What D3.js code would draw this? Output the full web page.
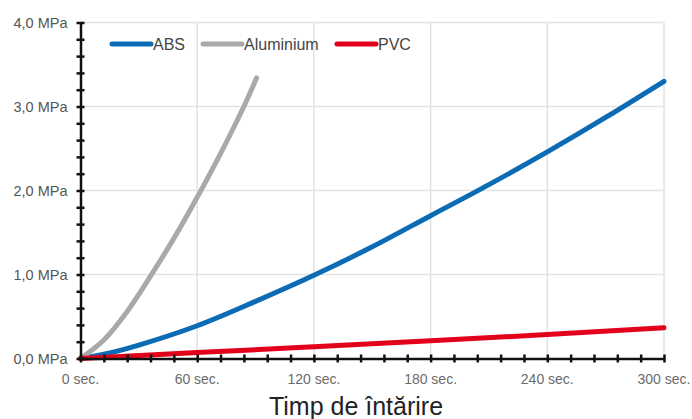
<!DOCTYPE html>
<html>
<head>
<meta charset="utf-8">
<script src="https://cdn.jsdelivr.net/npm/d3@7"></script>
<style>
    html, body { margin: 0; padding: 0; background: #ffffff; }
    text { font-family: "Liberation Sans", Arial, sans-serif; }
</style>
</head>
<body>
<div id="chart"></div>
<script>
"use strict";

// values (seconds -> MPa)
const absTime   = [0, 12, 30, 60, 90, 120, 150, 180, 210, 240, 270, 300];
const absValues = [0, 0.05, 0.16, 0.39, 0.68, 0.99, 1.33, 1.70, 2.07, 2.46, 2.87, 3.30];

const aluTime   = [0, 12, 24, 36, 48, 60, 72, 84, 90.5];
const aluValues = [0, 0.22, 0.56, 0.98, 1.43, 1.92, 2.44, 3.0, 3.34];

const pvcTime   = [0, 60, 120, 180, 240, 300];
const pvcValues = [0, 0.07, 0.14, 0.21, 0.285, 0.365];

const seriesNames  = ["ABS", "Aluminium", "PVC"];
const seriesColors = ["#0b6bb4", "#a9a9a9", "#e2001a"];

const xTickValues = [0, 60, 120, 180, 240, 300];
const yTickValues = [0, 1, 2, 3, 4];
const xTitle = "Timp de întărire";

const series = [
    { name: seriesNames[0], color: seriesColors[0], points: d3.zip( absTime, absValues ) },
    { name: seriesNames[1], color: seriesColors[1], points: d3.zip( aluTime, aluValues ) },
    { name: seriesNames[2], color: seriesColors[2], points: d3.zip( pvcTime, pvcValues ) }
];

const margin = {top: 22.5, right: 28, bottom: 60.5, left: 80.5},
    width = 692 - margin.left - margin.right,
    height = 419 - margin.top - margin.bottom;

const svg = d3.select("#chart")
    .append("svg")
    .attr("width", 692)
    .attr("height", 419)
    .append("g")
    .attr("transform", "translate(" + margin.left + "," + margin.top + ")");

const x = d3.scaleLinear()
    .domain([0, 300])
    .range([0, width]);

const y = d3.scaleLinear()
    .domain([0, 4])
    .range([height, 0]);

// gridlines
svg.append("g")
    .selectAll("line.vgrid")
    .data( xTickValues.filter( d => d > 0 ) )
    .enter().append("line")
    .attr("x1", d => x(d)).attr("x2", d => x(d))
    .attr("y1", y(4)).attr("y2", y(0))
    .attr("stroke", "#e2e2e2")
    .attr("stroke-width", 1.5);

svg.append("g")
    .selectAll("line.hgrid")
    .data( yTickValues.filter( d => d > 0 ) )
    .enter().append("line")
    .attr("x1", 0).attr("x2", width)
    .attr("y1", d => y(d)).attr("y2", d => y(d))
    .attr("stroke", "#e2e2e2")
    .attr("stroke-width", 1.5);

// the lines
const line = d3.line()
    .curve(d3.curveCatmullRom.alpha(0.5))
    .x(function(d) { return x(d[0]); })
    .y(function(d) { return y(d[1]); });

svg.selectAll("path.series")
    .data( series )
    .enter().append("path")
    .attr("class", "series")
    .attr("fill", "none")
    .attr("stroke", d => d.color)
    .attr("stroke-width", 5)
    .attr("stroke-linecap", "round")
    .attr("stroke-linejoin", "round")
    .attr("d", d => line( d.points ));

// minor ticks, crossing the axis lines
const xMinor = d3.range(0, 301, 12);
const yMinor = d3.range(0, 4.01, 0.2);

svg.append("g")
    .attr("transform", "translate(0," + height + ")")
    .call(d3.axisBottom(x).tickValues(xMinor).tickSize(0).tickFormat(""))
    .call(g => g.select(".domain").attr("stroke", "#111").attr("stroke-width", 2.5))
    .call(g => g.selectAll(".tick line").remove())
    .call(g => g.selectAll(".tick").append("line")
        .attr("y1", -4).attr("y2", 4)
        .attr("stroke", "#111").attr("stroke-width", 2.5));

svg.append("g")
    .call(d3.axisLeft(y).tickValues(yMinor).tickSize(0).tickFormat(""))
    .call(g => g.select(".domain").attr("stroke", "#111").attr("stroke-width", 2.5))
    .call(g => g.selectAll(".tick line").remove())
    .call(g => g.selectAll(".tick").append("line")
        .attr("x1", -4).attr("x2", 4)
        .attr("stroke", "#111").attr("stroke-width", 2.5));

// tick labels
svg.append("g")
    .selectAll("text.xlabel")
    .data( xTickValues )
    .enter().append("text")
    .attr("x", d => x(d))
    .attr("y", height + 25.5)
    .attr("text-anchor", "middle")
    .attr("font-size", 14)
    .attr("fill", "#6b6b6b")
    .text(d => d + " sec.");

svg.append("g")
    .selectAll("text.ylabel")
    .data( yTickValues )
    .enter().append("text")
    .attr("x", -13)
    .attr("y", d => y(d))
    .attr("dy", "0.35em")
    .attr("text-anchor", "end")
    .attr("font-size", 14.5)
    .attr("fill", "#555")
    .text(d => d3.format(".1f")(d).replace(".", ",") + " MPa");

// x axis title
svg.append("text")
    .attr("x", 356 - margin.left)
    .attr("y", 415 - margin.top)
    .attr("text-anchor", "middle")
    .attr("font-size", 25)
    .attr("fill", "#222")
    .text(xTitle);

// legend
const legendX = [112, 203, 337];
const legend = svg.append("g")
    .attr("class", "legend")
    .attr("transform", "translate(" + (-margin.left) + "," + (44 - margin.top) + ")");

const legendItem = legend.selectAll("g")
    .data( series )
    .enter().append("g")
    .attr("transform", (d, i) => "translate(" + legendX[i] + ",0)");

legendItem.append("line")
    .attr("x1", 0).attr("x2", 39)
    .attr("stroke", d => d.color)
    .attr("stroke-width", 5)
    .attr("stroke-linecap", "round");

legendItem.append("text")
    .attr("x", 41)
    .attr("dy", "0.36em")
    .attr("font-size", 16)
    .attr("fill", "#444")
    .text(d => d.name);
</script>
</body>
</html>
